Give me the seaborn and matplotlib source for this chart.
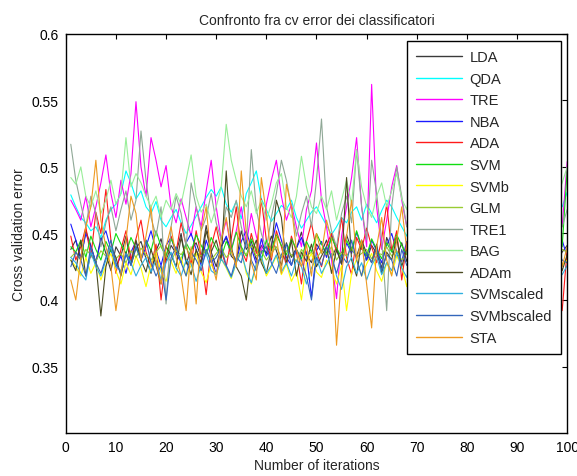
import matplotlib
matplotlib.use('Agg')
import matplotlib.pyplot as plt
import seaborn as sns
import pandas as pd
import numpy as np

# cv error per iteration (in thousandths)
LDA = [438, 445, 430, 452, 441, 428, 447, 435, 422, 440,
       433, 448, 426, 439, 444, 431, 420, 437, 446, 429,
       441, 435, 450, 427, 438, 443, 432, 456, 436, 425,
       440, 447, 433, 429, 452, 438, 444, 430, 441, 435,
       448, 437, 426, 443, 432, 439, 451, 434, 428, 442,
       436, 445, 431, 440, 427, 449, 438, 433, 444, 430,
       441, 435, 424, 447, 437, 432, 443, 429, 440, 436,
       444, 431, 438, 426, 445, 433, 440, 428, 447, 435,
       430, 442, 437, 449, 428, 436, 441, 433, 445, 430,
       438, 426, 443, 435, 440, 432, 447, 429, 436, 441]
QDA = [479, 470, 462, 458, 452, 455, 447, 460, 468, 472,
       480, 497, 488, 476, 482, 470, 465, 474, 460, 455,
       462, 468, 458, 450, 456, 463, 470, 477, 483, 478,
       485, 472, 466, 474, 461, 480, 488, 497, 476, 468,
       459, 465, 471, 468, 475, 462, 454, 460, 466, 470,
       463, 456, 449, 455, 462, 458, 466, 470, 460, 472,
       465, 458, 467, 475, 470, 462, 455, 448, 460, 466,
       472, 465, 458, 463, 470, 477, 468, 460, 455, 462,
       469, 474, 466, 459, 463, 471, 478, 470, 462, 457,
       464, 470, 466, 459, 455, 462, 468, 474, 470, 481]
TRE = [475, 468, 460, 478, 455, 470, 488, 509, 480, 462,
       490, 472, 495, 549, 500, 478, 522, 505, 485, 501,
       470, 458, 476, 462, 448, 470, 455, 482, 505, 470,
       445, 460, 438, 452, 470, 442, 465, 448, 435, 472,
       490, 505, 478, 460, 472, 455, 440, 468, 482, 518,
       475, 455, 430, 401, 448, 470, 492, 522, 470, 440,
       562, 470, 438, 460, 485, 501, 475, 455, 480, 470,
       490, 465, 475, 455, 482, 470, 460, 488, 472, 458,
       475, 490, 466, 480, 470, 455, 478, 492, 468, 475,
       460, 482, 470, 488, 475, 462, 480, 470, 455, 504]
NBA = [457, 445, 432, 450, 440, 428, 445, 452, 438, 425,
       433, 420, 436, 444, 430, 440, 452, 437, 426, 441,
       447, 435, 428, 443, 450, 438, 426, 445, 433, 419,
       440, 448, 437, 429, 444, 452, 439, 427, 446, 433,
       441, 458, 445, 432, 426, 439, 447, 435, 402, 437,
       444, 432, 449, 438, 427, 443, 435, 451, 440, 430,
       445, 437, 428, 441, 450, 436, 429, 444, 432, 440,
       447, 434, 426, 442, 436, 450, 431, 439, 445, 428,
       437, 446, 432, 441, 428, 443, 436, 449, 434, 440,
       429, 444, 437, 450, 433, 441, 426, 438, 445, 432]
ADA = [448, 430, 440, 455, 432, 466, 450, 483, 445, 420,
       438, 452, 430, 446, 460, 436, 425, 442, 400, 432,
       448, 436, 458, 441, 427, 452, 433, 404, 440, 455,
       437, 425, 446, 470, 438, 429, 450, 435, 476, 445,
       430, 452, 440, 426, 448, 436, 412, 444, 458, 437,
       425, 441, 450, 436, 462, 432, 419, 447, 438, 454,
       440, 428, 446, 472, 437, 452, 415, 443, 436, 448,
       430, 445, 438, 452, 426, 441, 435, 458, 432, 444,
       437, 450, 428, 443, 456, 432, 440, 425, 447, 436,
       452, 438, 429, 445, 433, 450, 440, 426, 392, 438]
SVM = [440, 436, 445, 432, 448, 438, 430, 444, 436, 450,
       442, 435, 447, 439, 431, 445, 437, 452, 440, 433,
       446, 438, 430, 443, 436, 449, 441, 434, 447, 439,
       432, 444, 437, 451, 440, 433, 446, 438, 430, 445,
       437, 449, 441, 434, 446, 438, 431, 444, 436, 450,
       442, 435, 447, 439, 432, 445, 437, 452, 440, 433,
       446, 438, 431, 443, 436, 449, 441, 434, 447, 439,
       433, 444, 437, 450, 440, 432, 446, 438, 430, 445,
       437, 449, 441, 435, 446, 438, 431, 444, 436, 450,
       442, 435, 447, 439, 432, 445, 437, 451, 440, 498]
SVMb = [430, 425, 418, 432, 420, 428, 415, 426, 435, 422,
        412, 428, 419, 433, 424, 410, 427, 436, 421, 414,
        429, 420, 432, 418, 426, 435, 421, 413, 427, 419,
        431, 424, 416, 428, 437, 420, 412, 426, 432, 418,
        425, 433, 419, 427, 414, 422, 400, 428, 435, 421,
        417, 430, 424, 412, 426, 392, 420, 431, 418, 427,
        435, 422, 414, 428, 419, 433, 425, 410, 429, 421,
        416, 430, 423, 436, 418, 427, 412, 425, 433, 420,
        428, 415, 431, 422, 436, 419, 426, 413, 430, 424,
        418, 432, 425, 414, 429, 421, 435, 417, 426, 430]
GLM = [432, 436, 430, 438, 434, 429, 437, 433, 440, 431,
       435, 428, 437, 432, 439, 434, 430, 436, 441, 433,
       429, 437, 434, 440, 431, 436, 433, 438, 430, 435,
       439, 432, 436, 429, 438, 434, 441, 433, 437, 430,
       435, 440, 432, 437, 434, 429, 438, 433, 436, 431,
       437, 434, 440, 430, 436, 433, 439, 432, 435, 438,
       431, 436, 434, 440, 433, 437, 430, 435, 439, 432,
       436, 433, 438, 431, 435, 440, 434, 430, 437, 433,
       439, 432, 436, 434, 430, 438, 435, 441, 433, 437,
       431, 436, 433, 439, 435, 430, 437, 434, 438, 436]
TRE1 = [517, 490, 472, 455, 478, 465, 440, 458, 470, 452,
        468, 482, 460, 475, 527, 490, 462, 448, 470, 397,
        455, 478, 465, 440, 488, 470, 452, 462, 480, 458,
        445, 470, 462, 475, 455, 440, 513, 468, 450, 438,
        462, 480, 505, 490, 470, 448, 465, 478, 455, 490,
        536, 470, 452, 440, 465, 478, 458, 513, 470, 445,
        505, 480, 445, 392, 470, 500, 478, 455, 470, 462,
        480, 455, 468, 490, 472, 450, 466, 482, 460, 475,
        458, 470, 485, 462, 448, 472, 490, 466, 455, 478,
        462, 480, 470, 452, 475, 488, 460, 472, 455, 468]
BAG = [492, 487, 500, 478, 470, 482, 465, 475, 490, 472,
       480, 522, 485, 495, 488, 478, 470, 478, 462, 475,
       468, 480, 472, 490, 509, 478, 466, 472, 458, 470,
       485, 532, 505, 490, 478, 470, 482, 465, 475, 460,
       472, 488, 495, 470, 462, 478, 508, 485, 470, 465,
       478, 468, 482, 460, 475, 490, 472, 513, 485, 470,
       462, 478, 488, 470, 482, 495, 476, 468, 485, 472,
       480, 466, 490, 475, 470, 488, 462, 478, 492, 470,
       476, 485, 468, 480, 472, 490, 466, 478, 485, 470,
       482, 468, 475, 490, 472, 480, 465, 478, 488, 500]
ADAm = [430, 422, 445, 418, 435, 428, 388, 425, 440, 432,
        418, 436, 427, 445, 430, 421, 438, 426, 412, 440,
        434, 425, 447, 430, 419, 438, 428, 452, 436, 445,
        430, 497, 440, 425, 418, 400, 435, 445, 428, 420,
        438, 475, 462, 427, 445, 418, 436, 429, 442, 425,
        433, 440, 420, 438, 427, 492, 430, 418, 445, 435,
        428, 442, 420, 436, 430, 447, 425, 438, 431, 420,
        437, 428, 445, 432, 420, 440, 433, 426, 445, 430,
        422, 438, 430, 445, 428, 436, 420, 441, 432, 427,
        440, 431, 425, 438, 430, 445, 428, 436, 422, 434]
SVMscaled = [432, 428, 420, 415, 436, 425, 418, 430, 440, 425,
             422, 435, 428, 418, 426, 432, 421, 430, 415, 428,
             436, 424, 418, 430, 427, 414, 426, 435, 422, 419,
             431, 425, 417, 428, 436, 422, 413, 427, 433, 420,
             426, 434, 421, 428, 418, 430, 425, 412, 424, 432,
             420, 427, 435, 418, 408, 425, 432, 420, 428, 415,
             426, 433, 419, 428, 422, 436, 424, 417, 430, 426,
             421, 434, 427, 415, 429, 436, 422, 428, 418, 431,
             425, 419, 433, 427, 420, 430, 436, 423, 418, 428,
             432, 424, 418, 430, 426, 421, 434, 428, 419, 426]
SVMbscaled = [425, 436, 430, 418, 440, 428, 420, 432, 445, 428,
              420, 434, 426, 440, 430, 445, 428, 418, 426, 400,
              432, 440, 428, 418, 436, 430, 422, 438, 428, 432,
              440, 426, 418, 432, 428, 445, 430, 422, 436, 440,
              428, 420, 434, 442, 426, 438, 430, 418, 400, 432,
              426, 440, 432, 420, 434, 428, 445, 430, 418, 436,
              428, 440, 422, 434, 430, 418, 438, 426, 432, 440,
              425, 436, 430, 418, 442, 428, 434, 420, 438, 430,
              426, 440, 432, 418, 436, 428, 422, 438, 430, 434,
              428, 420, 436, 440, 426, 432, 418, 438, 430, 428]
STA = [415, 400, 432, 455, 470, 505, 460, 440, 425, 392,
       420, 445, 478, 465, 430, 448, 470, 428, 412, 440,
       455, 432, 418, 392, 440, 397, 452, 470, 430, 415,
       445, 462, 438, 425, 497, 450, 428, 415, 492, 465,
       432, 448, 420, 487, 470, 438, 425, 442, 418, 450,
       435, 460, 445, 366, 420, 448, 475, 430, 445, 412,
       379, 440, 462, 430, 418, 445, 470, 438, 425, 450,
       432, 418, 445, 460, 428, 440, 415, 452, 435, 420,
       448, 430, 462, 425, 440, 455, 418, 438, 450, 428,
       442, 420, 455, 435, 418, 446, 430, 460, 425, 440]

names = ['LDA', 'QDA', 'TRE', 'NBA', 'ADA', 'SVM', 'SVMb', 'GLM', 'TRE1',
         'BAG', 'ADAm', 'SVMscaled', 'SVMbscaled', 'STA']
series = [LDA, QDA, TRE, NBA, ADA, SVM, SVMb, GLM, TRE1,
          BAG, ADAm, SVMscaled, SVMbscaled, STA]
colors = ['#3a3a3a', '#00ffff', '#ff00ff', '#1a1aff', '#ff1a1a', '#11dd11',
          '#ffff00', '#99cc33', '#8fa896', '#99ee99', '#4b4b22', '#2fb0e0',
          '#3366bb', '#ee9a22']

iters = list(range(1, 101))
rows = []
for nm, vals in zip(names, series):
    for it, v in zip(iters, vals):
        rows.append((it, v / 1000.0, nm))
df = pd.DataFrame(rows, columns=['iter', 'err', 'clf'])

sns.set_style('white')
plt.rcParams['font.family'] = ['Liberation Sans', 'DejaVu Sans']

fig = plt.figure(figsize=(5.77, 4.77), dpi=100)
ax = fig.add_axes([0.114, 0.090, 0.869, 0.837])

sns.lineplot(data=df, x='iter', y='err', hue='clf', hue_order=names,
             palette=dict(zip(names, colors)), linewidth=0.8, ax=ax)

ax.set_xlim(0, 100)
ax.set_ylim(0.3, 0.6)
ax.set_xticks(range(0, 101, 10))
ax.set_yticks([0.35, 0.4, 0.45, 0.5, 0.55, 0.6])
ax.set_yticklabels(['0.35', '0.4', '0.45', '0.5', '0.55', '0.6'])
ax.tick_params(direction='in', length=3.5, width=0.8, top=True, right=True,
               labelsize=10, colors='black', pad=5)
for sp in ax.spines.values():
    sp.set_color('black')
    sp.set_linewidth(1.0)

ax.set_title('Confronto fra cv error dei classificatori', fontsize=10, pad=7)
ax.set_xlabel('Number of iterations', fontsize=10, labelpad=3)
ax.set_ylabel('Cross validation error', fontsize=10, labelpad=4)

leg = ax.legend(loc='upper right', bbox_to_anchor=(0.988, 0.982), fontsize=10.5,
                frameon=True, fancybox=False, framealpha=1, edgecolor='black',
                handlelength=3.2, labelspacing=0.52, borderpad=0.62,
                handletextpad=0.5, borderaxespad=0)
leg.get_frame().set_linewidth(1.0)
for ln in leg.get_lines():
    ln.set_linewidth(1.0)

fig.savefig('out.png', dpi=100, facecolor='white')
